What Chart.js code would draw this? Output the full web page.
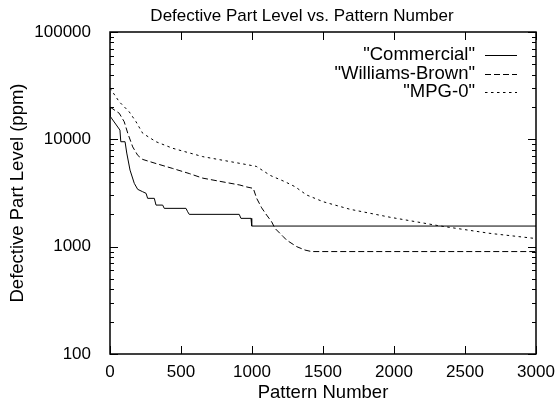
<!DOCTYPE html>
<html>
<head>
<meta charset="utf-8">
<script src="https://cdn.jsdelivr.net/npm/chart.js@4/dist/chart.umd.min.js"></script>
<style>
  html, body { margin: 0; padding: 0; background: #fff; }
</style>
</head>
<body>
<canvas id="chart" width="558" height="400"></canvas>
<script>
(function () {
  'use strict';

  var chartTitle = 'Defective Part Level vs. Pattern Number';
  var seriesNames = ['"Commercial"', '"Williams-Brown"', '"MPG-0"'];

  var commercialX = [0, 0, 14, 70, 76, 106, 118, 141, 171, 195, 230, 254, 265, 312, 324, 371, 382, 535, 547, 558, 910, 922, 993, 998, 3000];
  var commercialY = [20000, 16500, 15500, 12200, 9500, 9500, 7450, 5170, 3890, 3420, 3250, 3140, 2820, 2820, 2440, 2440, 2275, 2275, 2115, 2000, 2000, 1836, 1836, 1556, 1556];

  var wbX = [0, 65, 100, 125, 160, 195, 230, 324, 442, 558, 653, 915, 963, 1009, 1033, 1068, 1103, 1139, 1162, 1220, 1244, 1315, 1373, 1420, 3000];
  var wbY = [20000, 17500, 14600, 11400, 8500, 7100, 6500, 5950, 5350, 4800, 4350, 3750, 3600, 3490, 2820, 2300, 1970, 1700, 1480, 1240, 1150, 1000, 930, 900, 900];

  var mpgX = [0, 65, 136, 183, 230, 324, 442, 653, 915, 1030, 1130, 1232, 1303, 1385, 1502, 1690, 1972, 2324, 2676, 3000];
  var mpgY = [30000, 22400, 18000, 14600, 11400, 9500, 8250, 6900, 5970, 5600, 4600, 4030, 3620, 3030, 2620, 2230, 1880, 1560, 1330, 1190];

  var xTicks = [0, 500, 1000, 1500, 2000, 2500, 3000];
  var yTicks = [100, 1000, 10000, 100000];

  var FONT = "'Liberation Sans', Arial, sans-serif";

  function toPoints(xs, ys) {
    var out = [];
    for (var i = 0; i < xs.length; i++) out.push({ x: xs[i], y: ys[i] });
    return out;
  }

  // gnuplot style frame, inward ticks, title and key
  var gnuplotDecor = {
    id: 'gnuplotDecor',
    afterDraw: function (chart) {
      var ctx = chart.ctx;
      var a = chart.chartArea;
      var xs = chart.scales.x;
      var ys = chart.scales.y;
      ctx.save();
      ctx.strokeStyle = '#000';
      ctx.lineWidth = 1;

      ctx.beginPath();
      xTicks.forEach(function (v) {
        var px = Math.round(xs.getPixelForValue(v)) + 0.5;
        ctx.moveTo(px, a.bottom); ctx.lineTo(px, a.bottom - 8);
        ctx.moveTo(px, a.top); ctx.lineTo(px, a.top + 8);
      });
      for (var d = 100; d <= 100000; d *= 10) {
        for (var m = 1; m <= 9; m++) {
          var v = d * m;
          if (v > 100000) break;
          var len = m === 1 ? 8 : 4;
          var py = Math.round(ys.getPixelForValue(v)) + 0.5;
          ctx.moveTo(a.left, py); ctx.lineTo(a.left + len, py);
          ctx.moveTo(a.right, py); ctx.lineTo(a.right - len, py);
        }
      }
      ctx.stroke();

      ctx.lineWidth = 1.5;
      ctx.strokeRect(a.left, a.top, a.right - a.left, a.bottom - a.top);

      ctx.fillStyle = '#000';
      ctx.font = '17px ' + FONT;
      ctx.textAlign = 'center';
      ctx.textBaseline = 'alphabetic';
      ctx.fillText(chartTitle, 302, 20.5);

      ctx.font = '18.5px ' + FONT;
      ctx.textAlign = 'right';
      ctx.textBaseline = 'middle';
      chart.data.datasets.forEach(function (ds, i) {
        var ry = 55 + i * 18.5;
        ctx.fillText(ds.label, 475, ry);
        ctx.save();
        ctx.lineWidth = 1;
        ctx.setLineDash(ds.borderDash || []);
        ctx.beginPath();
        ctx.moveTo(485, Math.round(ry) + 0.5);
        ctx.lineTo(517, Math.round(ry) + 0.5);
        ctx.stroke();
        ctx.restore();
      });
      ctx.restore();
    }
  };

  function lineSet(label, xs, ys, dash) {
    return {
      label: label,
      data: toPoints(xs, ys),
      borderColor: '#000',
      borderWidth: 1,
      borderDash: dash,
      pointRadius: 0,
      tension: 0,
      fill: false
    };
  }

  new Chart(document.getElementById('chart').getContext('2d'), {
    type: 'line',
    data: {
      datasets: [
        lineSet(seriesNames[0], commercialX, commercialY, []),
        lineSet(seriesNames[1], wbX, wbY, [6, 3]),
        lineSet(seriesNames[2], mpgX, mpgY, [2.5, 3.5])
      ]
    },
    options: {
      responsive: false,
      animation: false,
      layout: { padding: { top: 32, right: 22, left: 0, bottom: 0 } },
      plugins: {
        legend: { display: false },
        title: { display: false },
        tooltip: { enabled: false }
      },
      scales: {
        x: {
          type: 'linear',
          min: 0,
          max: 3000,
          afterFit: function (s) {
            s.height = 46;
            s.paddingLeft = 0;
            s.paddingRight = 0;
          },
          afterBuildTicks: function (s) {
            s.ticks = xTicks.map(function (v) { return { value: v }; });
          },
          grid: { display: true, drawOnChartArea: false, drawTicks: false, color: 'rgba(0,0,0,0)' },
          border: { display: false },
          ticks: {
            color: '#000',
            font: { size: 17, family: FONT },
            padding: 8,
            maxRotation: 0,
            callback: function (value) { return String(value); }
          },
          title: {
            display: true,
            text: 'Pattern Number',
            color: '#000',
            font: { size: 18.5, family: FONT },
            padding: { top: 0, bottom: -4 }
          }
        },
        y: {
          type: 'logarithmic',
          min: 100,
          max: 100000,
          afterFit: function (s) {
            s.width = 110;
            s.paddingTop = 0;
            s.paddingBottom = 0;
          },
          afterBuildTicks: function (s) {
            s.ticks = yTicks.map(function (v) { return { value: v }; });
          },
          grid: { display: true, drawOnChartArea: false, drawTicks: false, color: 'rgba(0,0,0,0)' },
          border: { display: false },
          ticks: {
            color: '#000',
            font: { size: 17, family: FONT },
            padding: 19,
            callback: function (value) { return String(value); }
          },
          title: {
            display: true,
            text: 'Defective Part Level (ppm)',
            color: '#000',
            font: { size: 18.5, family: FONT },
            padding: { top: 7, bottom: 0 }
          }
        }
      }
    },
    plugins: [gnuplotDecor]
  });
})();
</script>
</body>
</html>
